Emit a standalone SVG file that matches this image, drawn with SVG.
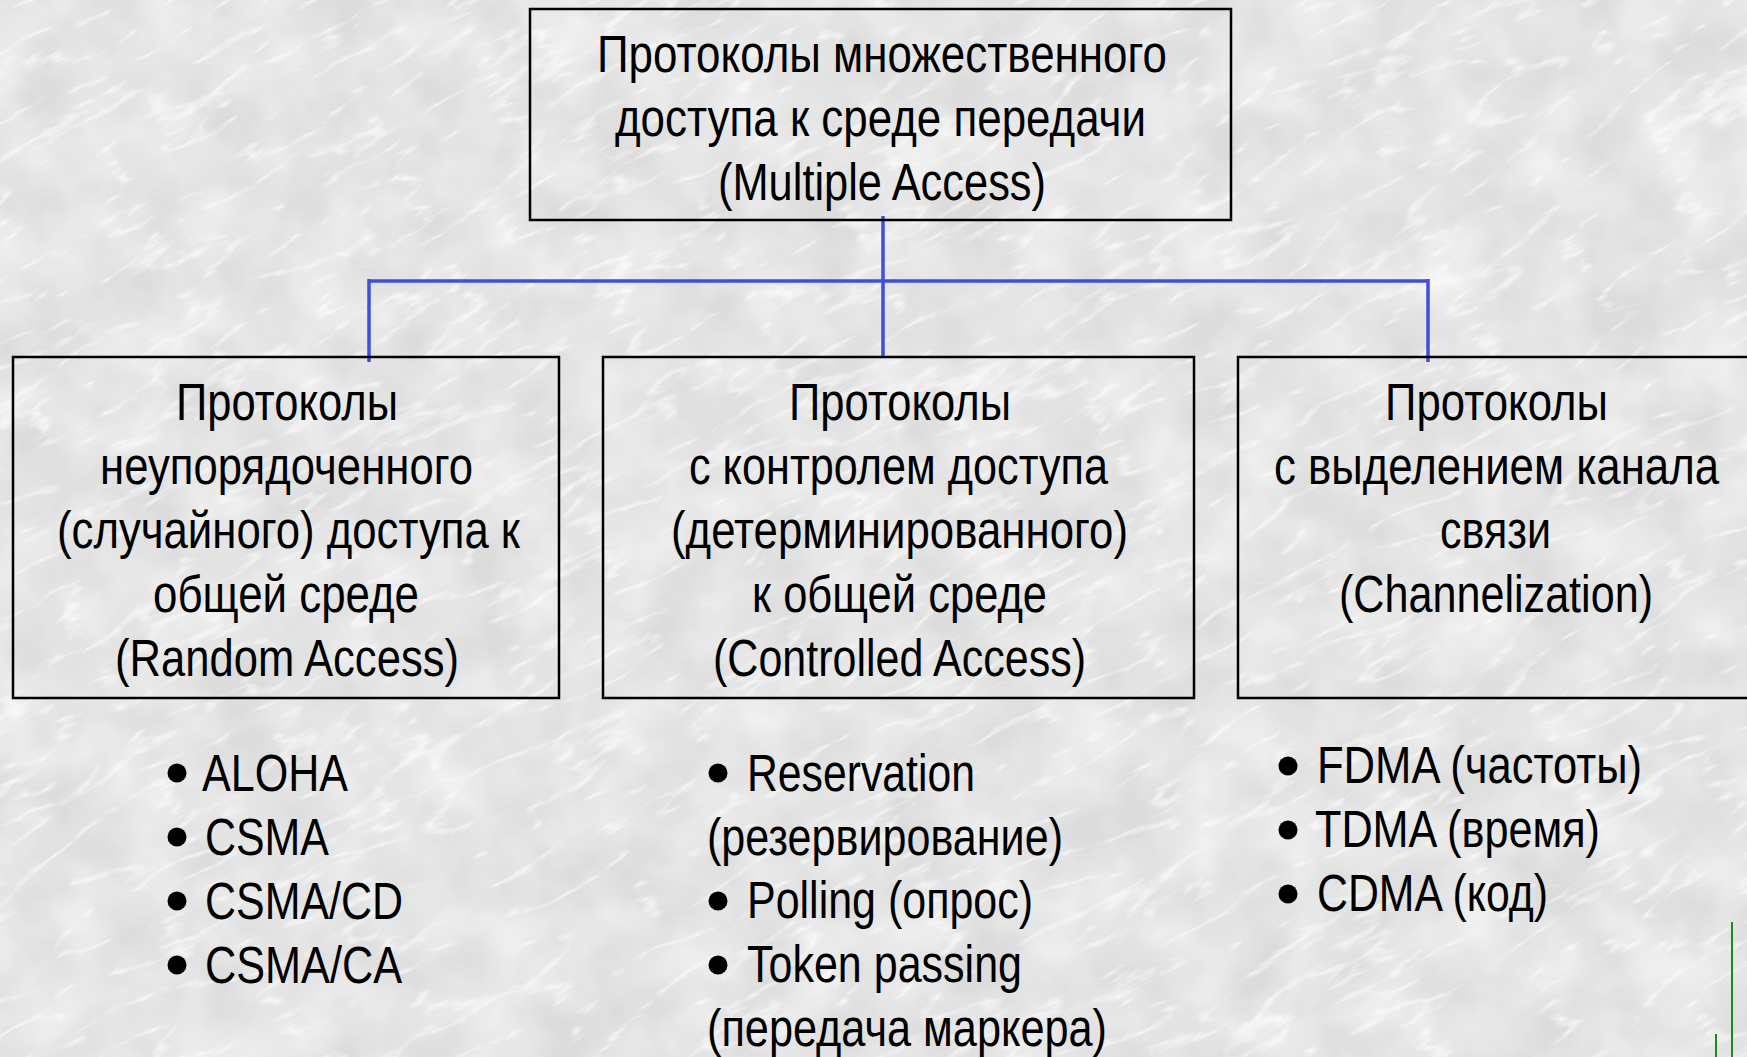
<svg xmlns="http://www.w3.org/2000/svg" width="1747" height="1057" viewBox="0 0 1747 1057">
  <defs>
    <filter id="marble" x="-700" y="-700" width="3200" height="2500" filterUnits="userSpaceOnUse">
      <feTurbulence type="turbulence" baseFrequency="0.008 0.03" numOctaves="4" seed="7" result="n"/>
      <feColorMatrix in="n" type="matrix" values="0 0 0 0 1  0 0 0 0 1  0 0 0 0 1  -4 0 0 0 0.75"/>
    </filter>
    <filter id="grain" x="-700" y="-700" width="3200" height="2500" filterUnits="userSpaceOnUse">
      <feTurbulence type="fractalNoise" baseFrequency="0.015" numOctaves="3" seed="3"/>
      <feColorMatrix type="matrix" values="0 0 0 0 1  0 0 0 0 1  0 0 0 0 1  0 0 0 0.9 -0.2"/>
    </filter>
    <style>
      .box { fill: none; stroke: #000; stroke-width: 2.5; }
      .link { stroke: #3f4fdc; stroke-width: 3.5; fill: none; }
      .t { font-family: "Liberation Sans Narrow", "Liberation Sans", Arial, sans-serif; font-size: 51px; fill: #000; }
      .dot { fill: #000; }
      .mark { stroke: #1c8a1c; stroke-width: 2; }
    </style>
  </defs>

  <!-- marble backdrop -->
  <rect width="1747" height="1057" fill="#dcdcdc"/>
  <g transform="rotate(-28 873 528)">
    <rect x="-600" y="-600" width="2950" height="2260" filter="url(#grain)"/>
    <rect x="-600" y="-600" width="2950" height="2260" filter="url(#marble)"/>
  </g>

  <!-- connectors -->
  <g id="connectors">
    <line class="link" x1="883" y1="216" x2="883" y2="358"/>
    <line class="link" x1="369" y1="281" x2="1428" y2="281"/>
    <line class="link" x1="369" y1="279" x2="369" y2="362"/>
    <line class="link" x1="1428" y1="279" x2="1428" y2="362"/>
  </g>

  <g id="root">
    <rect class="box" x="530" y="9" width="701" height="211"/>
    <text class="t" x="597" y="72" textLength="570" lengthAdjust="spacingAndGlyphs">Протоколы множественного</text>
    <text class="t" x="615" y="136" textLength="531" lengthAdjust="spacingAndGlyphs">доступа к среде передачи</text>
    <text class="t" x="718" y="200" textLength="328" lengthAdjust="spacingAndGlyphs">(Multiple Access)</text>
  </g>

  <g id="random-access">
    <rect class="box" x="13" y="357" width="546" height="341"/>
    <text class="t" x="176" y="420" textLength="222" lengthAdjust="spacingAndGlyphs">Протоколы</text>
    <text class="t" x="100" y="484" textLength="373" lengthAdjust="spacingAndGlyphs">неупорядоченного</text>
    <text class="t" x="57" y="548" textLength="463" lengthAdjust="spacingAndGlyphs">(случайного) доступа к</text>
    <text class="t" x="153" y="612" textLength="266" lengthAdjust="spacingAndGlyphs">общей среде</text>
    <text class="t" x="115" y="676" textLength="344" lengthAdjust="spacingAndGlyphs">(Random Access)</text>
  </g>

  <g id="controlled-access">
    <rect class="box" x="603" y="357" width="591" height="341"/>
    <text class="t" x="789" y="420" textLength="222" lengthAdjust="spacingAndGlyphs">Протоколы</text>
    <text class="t" x="689" y="484" textLength="419" lengthAdjust="spacingAndGlyphs">с контролем доступа</text>
    <text class="t" x="671" y="548" textLength="457" lengthAdjust="spacingAndGlyphs">(детерминированного)</text>
    <text class="t" x="752" y="612" textLength="295" lengthAdjust="spacingAndGlyphs">к общей среде</text>
    <text class="t" x="713" y="676" textLength="373" lengthAdjust="spacingAndGlyphs">(Controlled Access)</text>
  </g>

  <g id="channelization">
    <path class="box" d="M1747 357 H1238 V698 H1747"/>
    <text class="t" x="1385" y="420" textLength="223" lengthAdjust="spacingAndGlyphs">Протоколы</text>
    <text class="t" x="1274" y="484" textLength="445" lengthAdjust="spacingAndGlyphs">с выделением канала</text>
    <text class="t" x="1440" y="548" textLength="111" lengthAdjust="spacingAndGlyphs">связи</text>
    <text class="t" x="1339" y="612" textLength="314" lengthAdjust="spacingAndGlyphs">(Channelization)</text>
  </g>

  <g id="random-list">
    <circle class="dot" cx="177" cy="773" r="9.5"/>
    <text class="t" x="202" y="791" textLength="146" lengthAdjust="spacingAndGlyphs">ALOHA</text>
    <circle class="dot" cx="177" cy="837" r="9.5"/>
    <text class="t" x="205" y="855" textLength="124" lengthAdjust="spacingAndGlyphs">CSMA</text>
    <circle class="dot" cx="177" cy="901" r="9.5"/>
    <text class="t" x="205" y="919" textLength="198" lengthAdjust="spacingAndGlyphs">CSMA/CD</text>
    <circle class="dot" cx="177" cy="965" r="9.5"/>
    <text class="t" x="205" y="983" textLength="197" lengthAdjust="spacingAndGlyphs">CSMA/CA</text>
  </g>

  <g id="controlled-list">
    <circle class="dot" cx="718" cy="773" r="9.5"/>
    <text class="t" x="747" y="791" textLength="228" lengthAdjust="spacingAndGlyphs">Reservation</text>
    <text class="t" x="707" y="855" textLength="356" lengthAdjust="spacingAndGlyphs">(резервирование)</text>
    <circle class="dot" cx="718" cy="901" r="9.5"/>
    <text class="t" x="747" y="918" textLength="286" lengthAdjust="spacingAndGlyphs">Polling (опрос)</text>
    <circle class="dot" cx="718" cy="965" r="9.5"/>
    <text class="t" x="747" y="982" textLength="275" lengthAdjust="spacingAndGlyphs">Token passing</text>
    <text class="t" x="707" y="1046" textLength="400" lengthAdjust="spacingAndGlyphs">(передача маркера)</text>
  </g>

  <g id="channel-list">
    <circle class="dot" cx="1288" cy="766" r="9.5"/>
    <text class="t" x="1317" y="783" textLength="325" lengthAdjust="spacingAndGlyphs">FDMA (частоты)</text>
    <circle class="dot" cx="1288" cy="830" r="9.5"/>
    <text class="t" x="1315" y="847" textLength="285" lengthAdjust="spacingAndGlyphs">TDMA (время)</text>
    <circle class="dot" cx="1288" cy="894" r="9.5"/>
    <text class="t" x="1317" y="911" textLength="231" lengthAdjust="spacingAndGlyphs">CDMA (код)</text>
  </g>

  <!-- corner rule marks -->
  <line class="mark" x1="1732" y1="922" x2="1732" y2="1057"/>
  <line class="mark" x1="1716" y1="1034" x2="1716" y2="1057"/>
</svg>
